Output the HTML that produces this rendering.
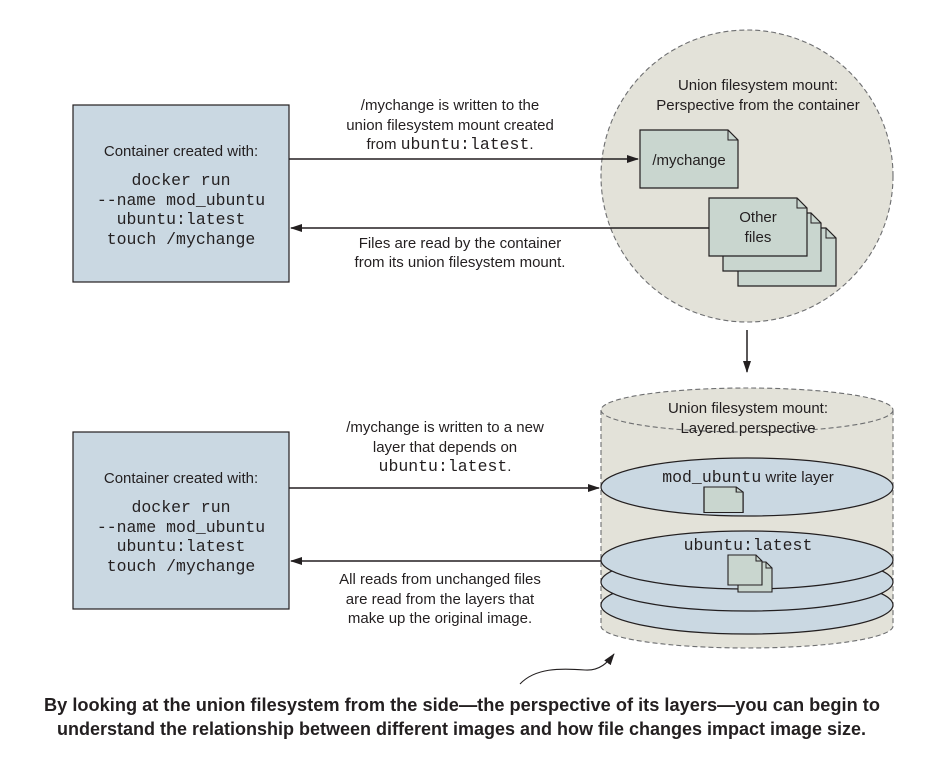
<!DOCTYPE html>
<html><head><meta charset="utf-8"><style>
html,body{margin:0;padding:0;background:#fff;}
svg{display:block;}
.s{font-family:"Liberation Sans",sans-serif;font-size:15px;fill:#231f20;}
.m{font-family:"Liberation Mono",monospace;font-size:16.5px;fill:#231f20;}
.c{font-family:"Liberation Sans Narrow","Liberation Sans",sans-serif;font-size:18px;font-weight:bold;fill:#231f20;}
</style></head><body>
<svg width="952" height="760" viewBox="0 0 952 760" xmlns="http://www.w3.org/2000/svg">
<defs>
<marker id="ah" markerWidth="12" markerHeight="8" refX="11" refY="4" orient="auto" markerUnits="userSpaceOnUse">
<path d="M0,0 L12,4 L0,8 Z" fill="#231f20"/></marker>
<g id="doc"><path d="M0,0 H88 L98,10 V58 H0 Z" fill="#c9d6cf" stroke="#231f20" stroke-width="1.2"/><path d="M88,0 V10 H98" fill="none" stroke="#231f20" stroke-width="1"/></g>
<g id="sdoc"><path d="M0,0 H28 L34,6 V30 H0 Z" fill="#c9d6cf" stroke="#231f20" stroke-width="1.1"/><path d="M28,0 V6 H34" fill="none" stroke="#231f20" stroke-width="1"/></g>
</defs>

<rect x="73" y="105" width="216" height="177" fill="#cad8e2" stroke="#231f20" stroke-width="1.2"/>
<text class="s" x="181" y="156" text-anchor="middle">Container created with:</text>
<text class="m" x="181" y="185" text-anchor="middle">docker run</text>
<text class="m" x="181" y="205" text-anchor="middle">--name mod_ubuntu</text>
<text class="m" x="181" y="224" text-anchor="middle">ubuntu:latest</text>
<text class="m" x="181" y="244" text-anchor="middle">touch /mychange</text>

<circle cx="747" cy="176" r="146" fill="#e3e2d9" stroke="#6d6e70" stroke-width="1.1" stroke-dasharray="5,3"/>
<text class="s" x="758" y="90" text-anchor="middle">Union filesystem mount:</text>
<text class="s" x="758" y="110" text-anchor="middle">Perspective from the container</text>
<use href="#doc" x="640" y="130"/>
<text class="s" x="689" y="165" text-anchor="middle">/mychange</text>
<use href="#doc" x="738" y="228"/>
<use href="#doc" x="723" y="213"/>
<use href="#doc" x="709" y="198"/>
<text class="s" x="758" y="222" text-anchor="middle">Other</text>
<text class="s" x="758" y="242" text-anchor="middle">files</text>

<line x1="289" y1="159" x2="638" y2="159" stroke="#231f20" stroke-width="1.5" marker-end="url(#ah)"/>
<line x1="709" y1="228" x2="291" y2="228" stroke="#231f20" stroke-width="1.5" marker-end="url(#ah)"/>
<text class="s" x="450" y="110" text-anchor="middle">/mychange is written to the</text>
<text class="s" x="450" y="130" text-anchor="middle">union filesystem mount created</text>
<text x="450" y="149" text-anchor="middle"><tspan class="s">from </tspan><tspan class="m">ubuntu:latest</tspan><tspan class="s">.</tspan></text>
<text class="s" x="460" y="248" text-anchor="middle">Files are read by the container</text>
<text class="s" x="460" y="267" text-anchor="middle">from its union filesystem mount.</text>

<line x1="747" y1="330" x2="747" y2="372" stroke="#231f20" stroke-width="1.5" marker-end="url(#ah)"/>

<path d="M601,410 V626 A146,22 0 0 0 893,626 V410" fill="#e3e2d9" stroke="#6d6e70" stroke-width="1.1" stroke-dasharray="5,3"/>
<ellipse cx="747" cy="410" rx="146" ry="22" fill="#e3e2d9" stroke="#6d6e70" stroke-width="1.1" stroke-dasharray="5,3"/>
<text class="s" x="748" y="413" text-anchor="middle">Union filesystem mount:</text>
<text class="s" x="748" y="433" text-anchor="middle">Layered perspective</text>
<ellipse cx="747" cy="605" rx="146" ry="29" fill="#cad8e2" stroke="#231f20" stroke-width="1.2"/>
<ellipse cx="747" cy="582" rx="146" ry="29" fill="#cad8e2" stroke="#231f20" stroke-width="1.2"/>
<ellipse cx="747" cy="560" rx="146" ry="29" fill="#cad8e2" stroke="#231f20" stroke-width="1.2"/>
<ellipse cx="747" cy="487" rx="146" ry="29" fill="#cad8e2" stroke="#231f20" stroke-width="1.2"/>
<text x="748" y="482" text-anchor="middle"><tspan class="m">mod_ubuntu</tspan><tspan class="s"> write layer</tspan></text>
<g transform="translate(704,487) scale(1.15,0.85)"><use href="#sdoc"/></g>
<text class="m" x="748" y="550" text-anchor="middle">ubuntu:latest</text>
<use href="#sdoc" x="738" y="562"/>
<use href="#sdoc" x="728" y="555"/>

<rect x="73" y="432" width="216" height="177" fill="#cad8e2" stroke="#231f20" stroke-width="1.2"/>
<text class="s" x="181" y="483" text-anchor="middle">Container created with:</text>
<text class="m" x="181" y="512" text-anchor="middle">docker run</text>
<text class="m" x="181" y="532" text-anchor="middle">--name mod_ubuntu</text>
<text class="m" x="181" y="551" text-anchor="middle">ubuntu:latest</text>
<text class="m" x="181" y="571" text-anchor="middle">touch /mychange</text>

<line x1="289" y1="488" x2="599" y2="488" stroke="#231f20" stroke-width="1.5" marker-end="url(#ah)"/>
<line x1="601" y1="561" x2="291" y2="561" stroke="#231f20" stroke-width="1.5" marker-end="url(#ah)"/>
<text class="s" x="445" y="432" text-anchor="middle">/mychange is written to a new</text>
<text class="s" x="445" y="452" text-anchor="middle">layer that depends on</text>
<text x="445" y="471" text-anchor="middle"><tspan class="m">ubuntu:latest</tspan><tspan class="s">.</tspan></text>
<text class="s" x="440" y="584" text-anchor="middle">All reads from unchanged files</text>
<text class="s" x="440" y="604" text-anchor="middle">are read from the layers that</text>
<text class="s" x="440" y="623" text-anchor="middle">make up the original image.</text>

<path d="M520,684 C535,668 560,668 585,670 C600,671 608,662 614,654" fill="none" stroke="#231f20" stroke-width="1.1" marker-end="url(#ah)"/>

<text class="c" x="44" y="711" textLength="836" lengthAdjust="spacingAndGlyphs">By looking at the union filesystem from the side—the perspective of its layers—you can begin to</text>
<text class="c" x="57" y="735" textLength="809" lengthAdjust="spacingAndGlyphs">understand the relationship between different images and how file changes impact image size.</text>
</svg>
</body></html>
